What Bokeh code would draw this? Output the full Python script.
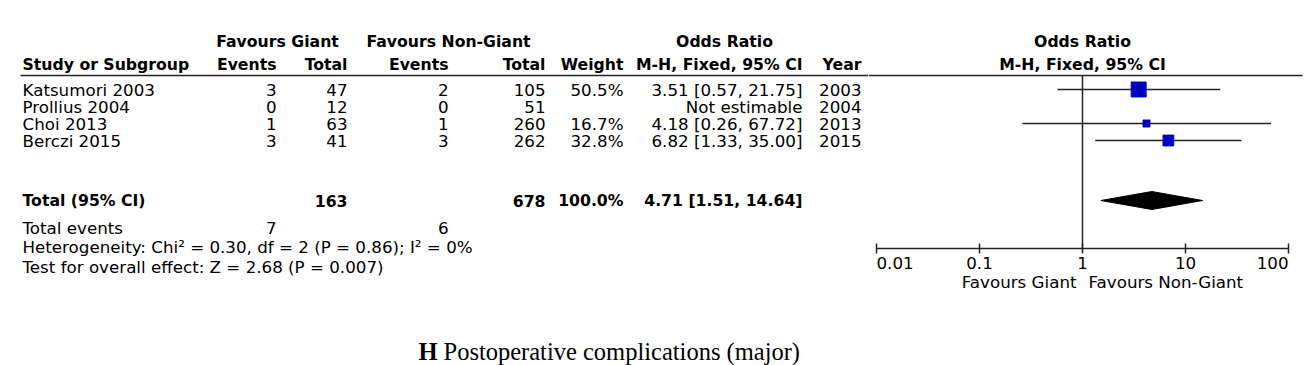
from bokeh.plotting import figure
from bokeh.layouts import row
from bokeh.models import Range1d, ColumnDataSource, FixedTicker
from bokeh.core.properties import value
from bokeh.embed import file_html
from bokeh.resources import INLINE

# ---------------- data ----------------
studies = ["Katsumori 2003", "Prollius 2004", "Choi 2013", "Berczi 2015"]
events_giant = [3, 0, 1, 3]
total_giant = [47, 12, 63, 41]
events_nongiant = [2, 0, 1, 3]
total_nongiant = [105, 51, 260, 262]
weights = [50.5, None, 16.7, 32.8]
odds = [3.51, None, 4.18, 6.82]
ci_low = [0.57, None, 0.26, 1.33]
ci_high = [21.75, None, 67.72, 35.00]
years = [2003, 2004, 2013, 2015]

total_n_giant = 163
total_n_nongiant = 678
total_weight = 100.0
total_or = 4.71
total_low = 1.51
total_high = 14.64
total_events_giant = 7
total_events_nongiant = 6
heterogeneity = "Heterogeneity: Chi\u00b2 = 0.30, df = 2 (P = 0.86); I\u00b2 = 0%"
overall = "Test for overall effect: Z = 2.68 (P = 0.007)"

ticks = [0.01, 0.1, 1, 10, 100]
tick_labels = ["0.01", "0.1", "1", "10", "100"]
tick_align = ["left", "center", "center", "center", "right"]

# ---------------- layout constants ----------------
FONT = value("DejaVu Sans")
FS = "16.7px"    # regular text
FSB = "15.7px"   # bold text
INK = "#000000"
LINE = "#222222"
H = 365
W_TAB = 868
W_FOR = 1313 - W_TAB
ROW0 = 89
PITCH = 17
row_y = [ROW0 + PITCH * i for i in range(len(studies))]
Y_H1, Y_H2, Y_RULE = 41, 64, 75
Y_TOT, Y_EV, Y_HET, Y_TEST = 200, 227, 246, 266
AXIS_Y = 248


def fmt_ci(o, l, h):
    return f"{o:.2f} [{l:.2f}, {h:.2f}]"


def add_text(p, xs, ys, texts, align="left", bold=False, size=None, font=FONT, color=INK,
             baseline="middle"):
    if size is None:
        size = FSB if bold else FS
    src = ColumnDataSource(dict(x=xs, y=ys, t=texts))
    p.text(x="x", y="y", text="t", source=src, text_align=align, text_baseline=baseline,
           text_font=font, text_font_size=size,
           text_font_style="bold" if bold else "normal", text_color=color)


def base(p):
    p.grid.visible = False
    p.outline_line_color = None
    p.background_fill_color = "white"
    p.border_fill_color = "white"
    p.min_border = 0


# ---------------- table figure ----------------
t = figure(width=W_TAB, height=H, x_range=Range1d(0, W_TAB), y_range=Range1d(H, 0),
           x_axis_location=None, y_axis_location=None, toolbar_location=None,
           output_backend="svg", min_border=0)
base(t)

# column right edges
C_EV1, C_TOT1, C_EV2, C_TOT2, C_W, C_OR, C_YR = 276, 347, 448, 545, 623, 802, 861

add_text(t, [277], [Y_H1], ["Favours Giant"], align="center", bold=True)
add_text(t, [448], [Y_H1], ["Favours Non-Giant"], align="center", bold=True)
add_text(t, [724], [Y_H1], ["Odds Ratio"], align="center", bold=True)
add_text(t, [22], [Y_H2], ["Study or Subgroup"], bold=True)
add_text(t, [C_EV1, C_TOT1, C_EV2, C_TOT2, C_W, C_OR, C_YR], [Y_H2] * 7,
         ["Events", "Total", "Events", "Total", "Weight", "M-H, Fixed, 95% CI", "Year"],
         align="right", bold=True)
t.segment(x0=[20], y0=[Y_RULE], x1=[W_TAB], y1=[Y_RULE], line_color=LINE, line_width=1.5)

add_text(t, [22] * len(studies), row_y, studies)
add_text(t, [C_EV1] * 4, row_y, [str(v) for v in events_giant], align="right")
add_text(t, [C_TOT1] * 4, row_y, [str(v) for v in total_giant], align="right")
add_text(t, [C_EV2] * 4, row_y, [str(v) for v in events_nongiant], align="right")
add_text(t, [C_TOT2] * 4, row_y, [str(v) for v in total_nongiant], align="right")
wi = [i for i, w in enumerate(weights) if w is not None]
add_text(t, [C_W] * len(wi), [row_y[i] for i in wi], [f"{weights[i]:.1f}%" for i in wi], align="right")
add_text(t, [C_OR] * 4, row_y,
         ["Not estimable" if o is None else fmt_ci(o, l, h) for o, l, h in zip(odds, ci_low, ci_high)],
         align="right")
add_text(t, [C_YR] * 4, row_y, [str(y) for y in years], align="right")

add_text(t, [22], [Y_TOT], ["Total (95% CI)"], bold=True)
add_text(t, [C_TOT1, C_TOT2, C_W, C_OR], [Y_TOT] * 4,
         [str(total_n_giant), str(total_n_nongiant), f"{total_weight:.1f}%",
          fmt_ci(total_or, total_low, total_high)], align="right", bold=True)
add_text(t, [22], [Y_EV], ["Total events"])
add_text(t, [C_EV1, C_EV2], [Y_EV, Y_EV], [str(total_events_giant), str(total_events_nongiant)], align="right")
add_text(t, [22], [Y_HET], [heterogeneity])
add_text(t, [22], [Y_TEST], [overall])

SERIF = value("Liberation Serif")
add_text(t, [418], [351], ["H"], bold=True, size="24.5px", font=SERIF, baseline="alphabetic")
add_text(t, [443], [351], ["Postoperative complications (major)"], size="24.5px", font=SERIF,
         baseline="alphabetic")

# ---------------- forest figure ----------------
PX_DEC = 103.0
x_lo = 10 ** (-2 - 8 / PX_DEC)
x_hi = 10 ** (2 + (W_FOR - 8 - 4 * PX_DEC) / PX_DEC)
f = figure(width=W_FOR, height=H, x_axis_type="log", x_range=Range1d(x_lo, x_hi),
           y_range=Range1d(H, 0), y_axis_location=None, x_axis_location="below",
           toolbar_location=None, output_backend="svg", min_border=0)
base(f)
ax = f.xaxis[0]
ax.fixed_location = AXIS_Y
ax.bounds = (ticks[0], ticks[-1])
ax.ticker = FixedTicker(ticks=ticks, minor_ticks=[])
ax.major_tick_in = 5
ax.major_tick_out = 5
ax.axis_line_color = LINE
ax.axis_line_width = 1.5
ax.major_tick_line_color = LINE
ax.major_tick_line_width = 1.5
ax.minor_tick_line_color = None
ax.major_label_text_color = None

add_text(f, [1], [Y_H1], ["Odds Ratio"], align="center", bold=True)
add_text(f, [1], [Y_H2], ["M-H, Fixed, 95% CI"], align="center", bold=True)
f.segment(x0=[x_lo], y0=[Y_RULE], x1=[10 ** (2 + 14 / PX_DEC)], y1=[Y_RULE], line_color=LINE, line_width=1.5)
f.segment(x0=[1], y0=[Y_RULE], x1=[1], y1=[AXIS_Y], line_color=LINE, line_width=1.5)

idx = [i for i, o in enumerate(odds) if o is not None]
f.segment(x0=[ci_low[i] for i in idx], y0=[row_y[i] for i in idx],
          x1=[ci_high[i] for i in idx], y1=[row_y[i] for i in idx], line_color=LINE, line_width=1.5)
f.scatter(x=[odds[i] for i in idx], y=[row_y[i] for i in idx],
          size=[3 + 0.237 * weights[i] for i in idx], marker="square",
          fill_color="#0000c0", line_color="#0000c0")
f.patch(x=[total_low, total_or, total_high, total_or], y=[Y_TOT, Y_TOT - 9, Y_TOT, Y_TOT + 9],
        fill_color="black", line_color="black")

src_t = ColumnDataSource(dict(x=ticks, y=[262] * len(ticks), t=tick_labels, a=tick_align))
f.text(x="x", y="y", text="t", text_align="a", source=src_t, text_baseline="middle",
       text_font=FONT, text_font_size=FS, text_color=INK)
f.text(x=[1], y=[281], text=["Favours Giant"], x_offset=-6, text_align="right", text_baseline="middle",
       text_font=FONT, text_font_size=FS, text_color=INK)
f.text(x=[1], y=[281], text=["Favours Non-Giant"], x_offset=6, text_align="left", text_baseline="middle",
       text_font=FONT, text_font_size=FS, text_color=INK)

layout = row(t, f, spacing=0)
open("out.html", "w").write(file_html(layout, INLINE))
